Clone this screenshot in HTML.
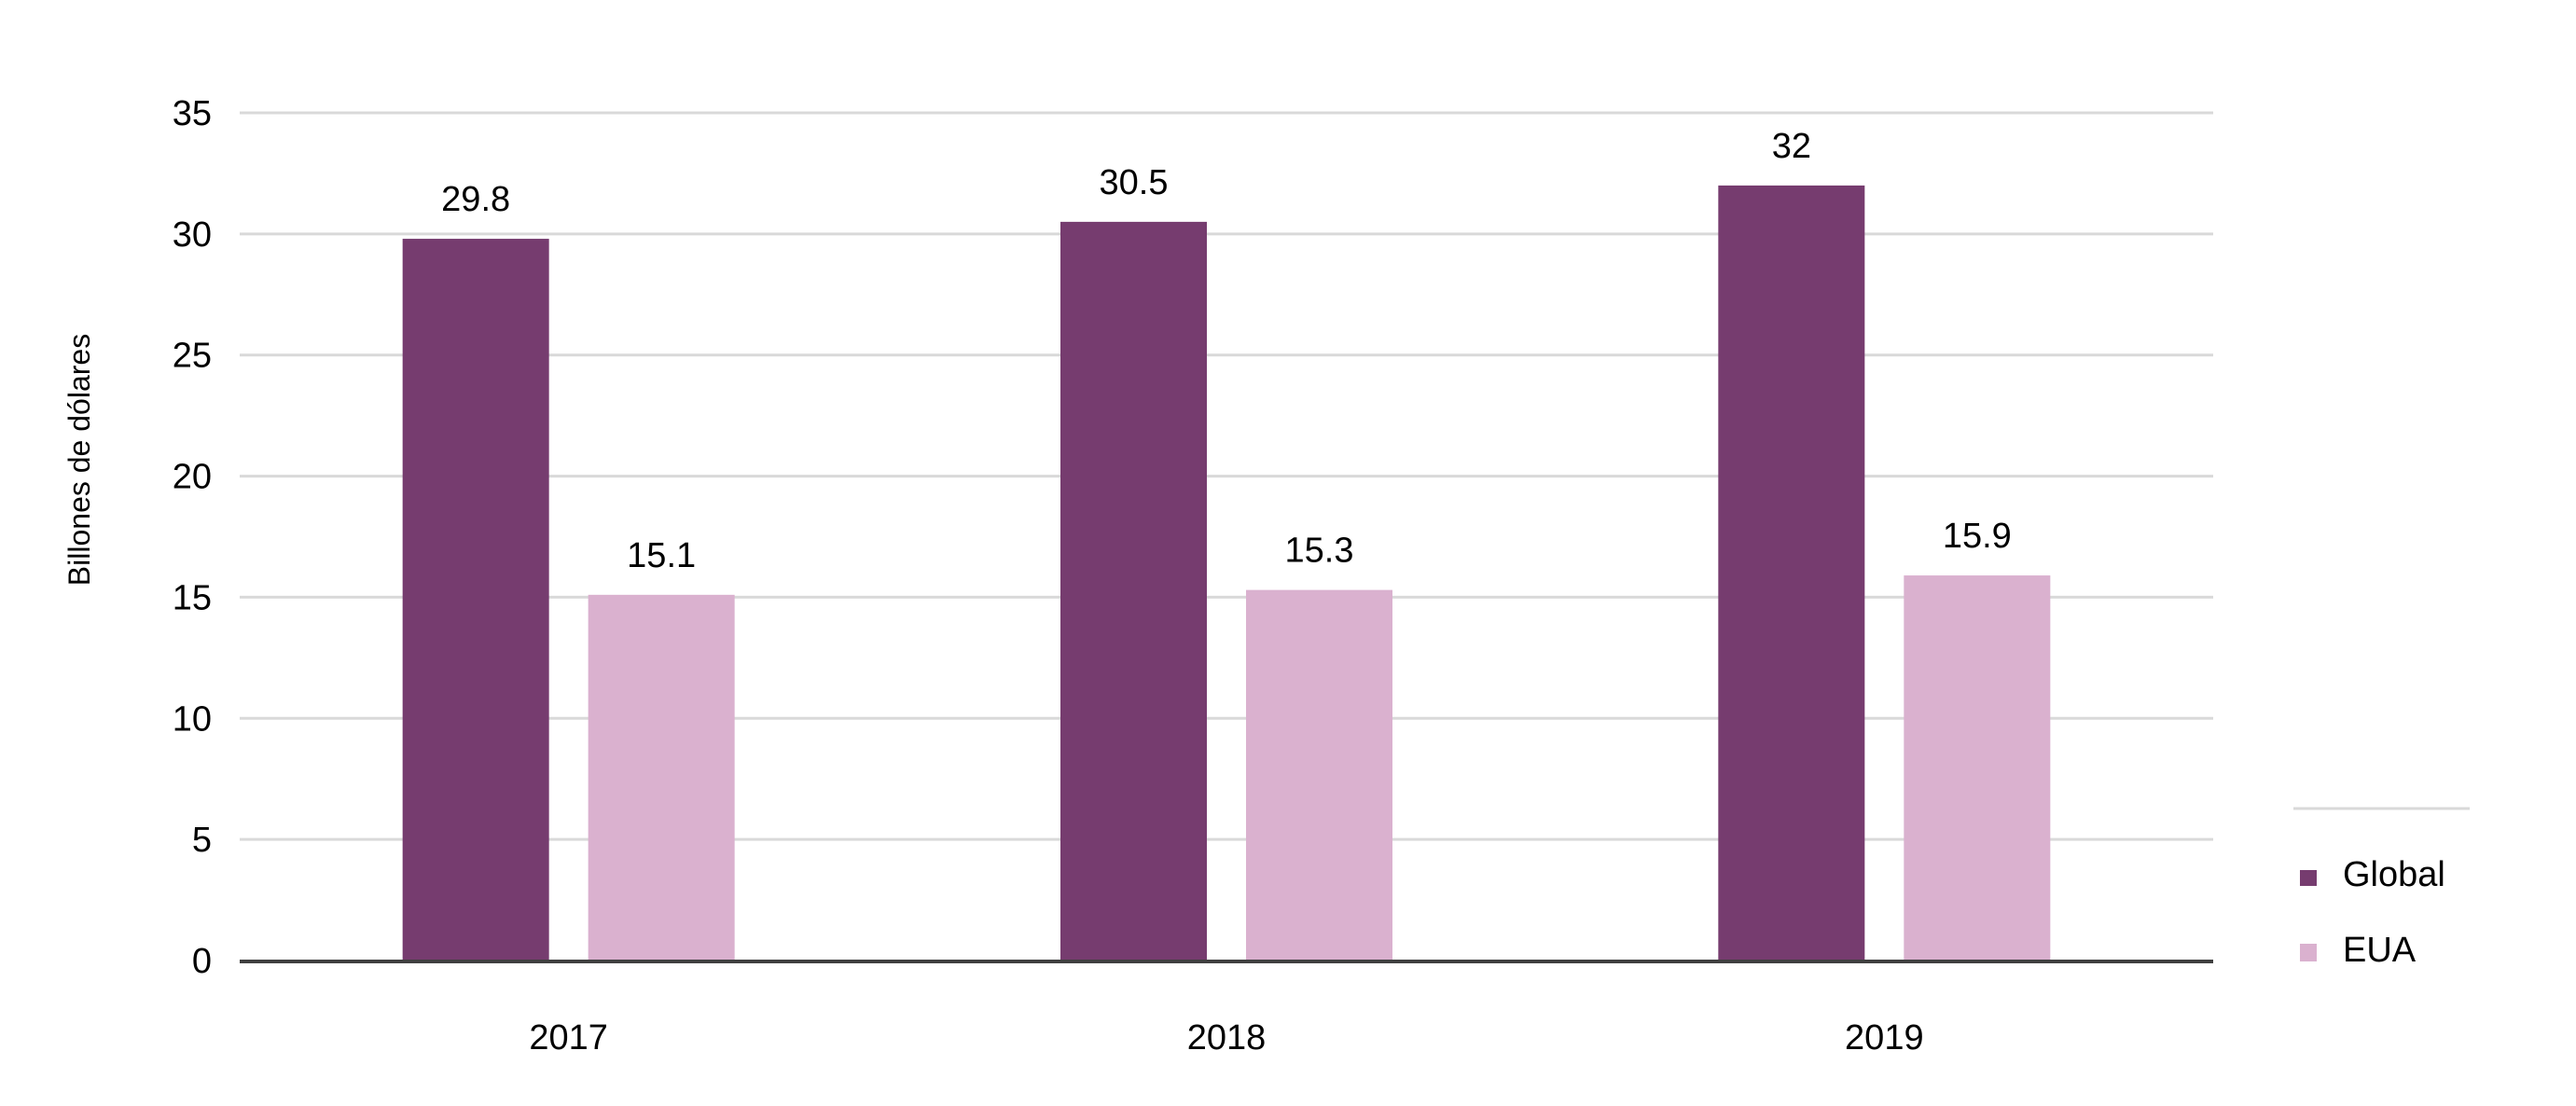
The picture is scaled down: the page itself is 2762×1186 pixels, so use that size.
<!DOCTYPE html>
<html><head><meta charset="utf-8">
<style>
html,body{margin:0;padding:0;background:#fff;}
svg{display:block;font-family:"Liberation Sans",sans-serif;}
</style></head>
<body>
<svg id="chart" width="2762" height="1186" viewBox="0 0 2762 1186" xmlns="http://www.w3.org/2000/svg">
<rect width="2762" height="1186" fill="#fff"/>
<g id="grid"></g>
<g id="bars"></g>
<g id="labels"></g>
<text x="0" y="0" transform="translate(96,493) rotate(-90)" text-anchor="middle" font-size="32" fill="#000">Billones de dólares</text>
<line x1="2459" y1="867" x2="2648" y2="867" stroke="#d9d9d9" stroke-width="3"/>
<g>
<rect x="2466" y="933" width="18" height="17" fill="#763c6f"/>
<text x="2512" y="950" font-size="38" fill="#000">Global</text>
</g>
<g>
<rect x="2466" y="1012" width="18" height="19" fill="#dab1cf"/>
<text x="2512" y="1031" font-size="38" fill="#000">EUA</text>
</g>
</svg>
<script>
const categories = ["2017", "2018", "2019"];
const globalValues = [29.8, 30.5, 32];
const euaValues = [15.1, 15.3, 15.9];
const globalLabels = ["29.8", "30.5", "32"];
const euaLabels = ["15.1", "15.3", "15.9"];
const yTicks = [0, 5, 10, 15, 20, 25, 30, 35];

const NS = "http://www.w3.org/2000/svg";
const plotL = 257, plotR = 2373, y0 = 1030, yScale = (1030 - 121) / 35;
const bandW = (plotR - plotL) / categories.length;
function y(v){ return y0 - v * yScale; }
function bandX(i){ return plotL + bandW * i; }
function mk(tag, attrs, parent){
  const e = document.createElementNS(NS, tag);
  for (const k in attrs) e.setAttribute(k, attrs[k]);
  parent.appendChild(e);
  return e;
}
const grid = document.getElementById('grid');
const bars = document.getElementById('bars');
const labels = document.getElementById('labels');

yTicks.forEach(t => {
  if (t !== 0) {
    const gl = mk('line', {x1: plotL, x2: plotR, y1: y(t), y2: y(t), stroke: '#d9d9d9', 'stroke-width': 3}, grid);
    
    
  }
  const tl = mk('text', {x: 227, y: y(t) + 13, 'text-anchor': 'end', 'font-size': 38, fill: '#000'}, labels);
  tl.textContent = String(t);
  
  
});

const barW = 157, gap = 42;
categories.forEach((c, i) => {
  const cx = bandX(i) + bandW / 2;
  const gx = cx - gap / 2 - barW;
  const ex = cx + gap / 2;
  const gb = mk('rect', {x: gx, y: y(globalValues[i]), width: barW, height: y0 - y(globalValues[i]), fill: '#763c6f'}, bars);
  
  
  const eb = mk('rect', {x: ex, y: y(euaValues[i]), width: barW, height: y0 - y(euaValues[i]), fill: '#dab1cf'}, bars);
  
  
  const gl = mk('text', {x: gx + barW / 2, y: y(globalValues[i]) - 30, 'text-anchor': 'middle', 'font-size': 38, fill: '#000'}, labels);
  gl.textContent = globalLabels[i];
  
  
  const el = mk('text', {x: ex + barW / 2, y: y(euaValues[i]) - 30, 'text-anchor': 'middle', 'font-size': 38, fill: '#000'}, labels);
  el.textContent = euaLabels[i];
  
  
  const xl = mk('text', {x: cx, y: 1125, 'text-anchor': 'middle', 'font-size': 38, fill: '#000'}, labels);
  xl.textContent = c;
  
  
});
const axis = mk('line', {x1: plotL, x2: plotR, y1: y0 + 1, y2: y0 + 1, stroke: '#404040', 'stroke-width': 4}, grid.parentNode);


</script>
</body></html>
